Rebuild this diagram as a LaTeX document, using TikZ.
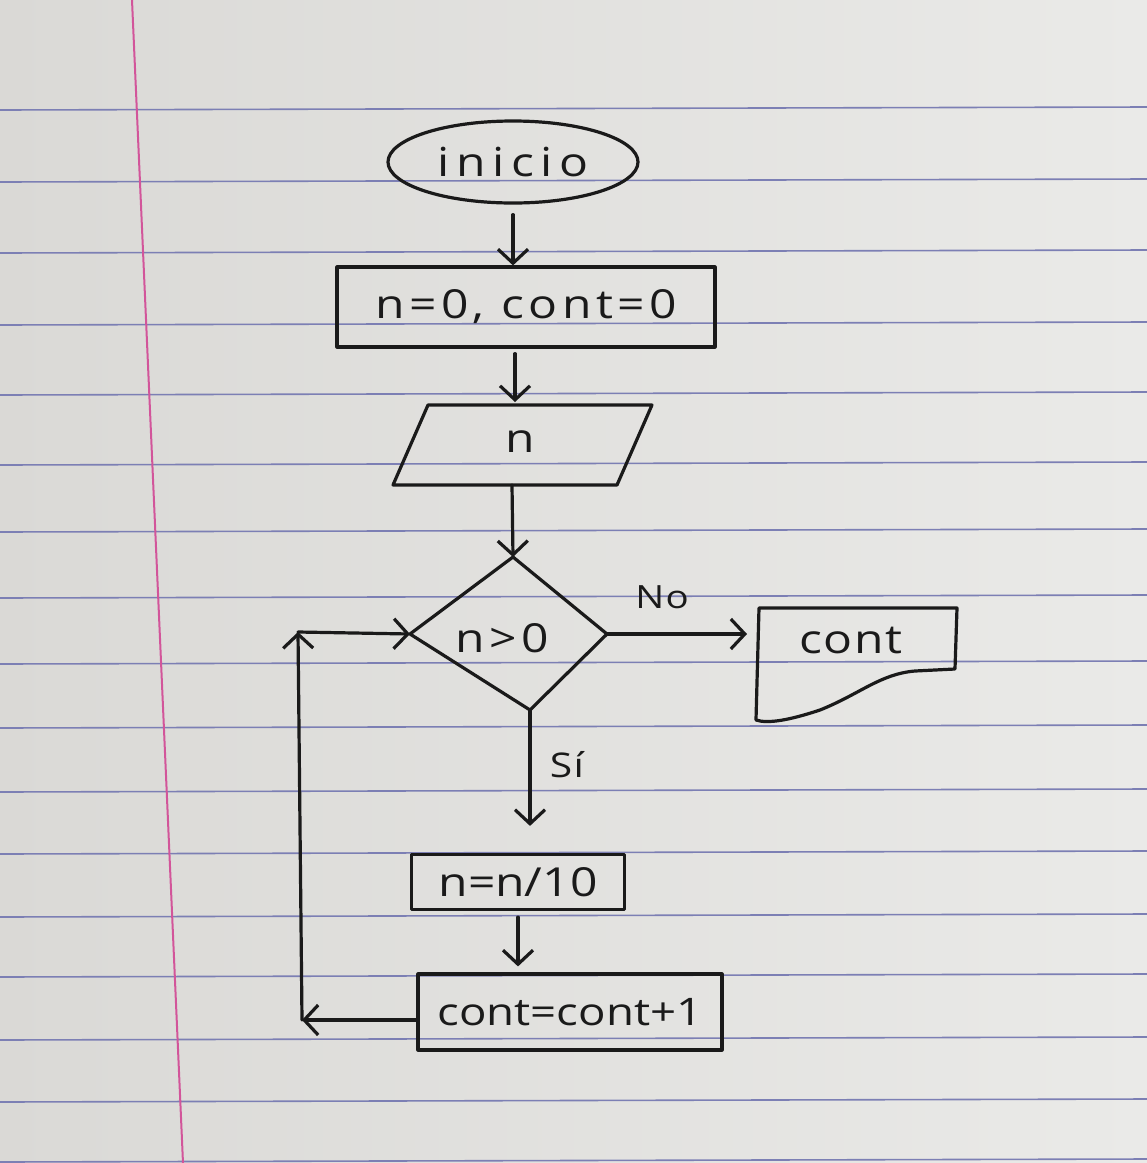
\documentclass[tikz,border=0pt]{standalone}
\usepackage{fontspec}
\setmainfont{Open Sans}
\usetikzlibrary{shapes.geometric,arrows.meta,calc}
\definecolor{paper}{HTML}{DAD9D6}
\definecolor{paperlight}{HTML}{EAEAE8}
\definecolor{rule}{HTML}{7C7FB4}
\definecolor{margin}{HTML}{D2559A}
\definecolor{ink}{HTML}{1A1A1A}
\newcommand{\hand}[2]{\fontsize{#1}{#1}\selectfont\addfontfeatures{FakeStretch=1.2,LetterSpace=#2}}
\begin{document}
\begin{tikzpicture}[x=1pt,y=-1pt,
  ink/.style={draw=ink,line width=3.2pt,line join=round,line cap=round},
  arr/.style={ink,-{Straight Barb[length=14pt,width=30pt,line width=3.2pt]}},
  txt/.style={text=ink,inner sep=0pt},
  procbox/.style={ink,rectangle,minimum width=#1,text=ink}]
% paper
\useasboundingbox (0,0) rectangle (1147,1163);
\shade[left color=paper,right color=paperlight] (0,0) rectangle (1147,1163);
\foreach \yy in {110,182,253,325,395,465,532,598,664,728,792,854,917,977,1040,1102,1162}
  \draw[rule,line width=1.6pt] (0,\yy) -- (1147,\yy-3);
\draw[margin,line width=2pt] (132,0) -- (183,1163);
% start
\node[ink,ellipse,minimum width=250pt,minimum height=82pt,txt,font=\hand{40}{17}] (ini) at (513,162) {inicio};
% init box
\node[procbox=378pt,minimum height=80pt,font=\hand{40}{11}] (b1) at (526,307) {n=0, cont=0};
% input parallelogram
\draw[ink] (393,485) -- (428,405) -- (652,405) -- (617,485) -- cycle;
\node[txt,font=\hand{40}{0}] (inp) at (520,442) {n};
\coordinate (inpT) at (515,405);
\coordinate (inpB) at (512,485);
% decision
\coordinate (dT) at (513,557);
\coordinate (dR) at (607,634);
\coordinate (dB) at (530,710);
\coordinate (dL) at (410,634);
\draw[ink] (dT) -- (dR) -- (dB) -- (dL) -- cycle;
\node[txt,font=\hand{40}{12}] (dec) at (502,638) {n>0};
% output document
\coordinate (docW) at (757,634);
\draw[ink] (759,608) -- (957,608) -- (955,669) -- (915,671)
  .. controls (880,674) and (860,694) .. (820,710)
  .. controls (790,720) and (768,724) .. (756,720) -- cycle;
\node[txt,font=\hand{40}{4}] (out) at (851,641) {cont};
% process boxes
\node[procbox=213pt,minimum height=55pt,font=\hand{40}{0}] (b2) at (518,882) {n=n/10};
\node[procbox=304pt,minimum height=76pt,font=\hand{38}{0}] (b3) at (570,1012) {cont=cont+1};
% labels
\node[txt,font=\hand{32}{4}] (no) at (662,597) {No};
\node[txt,font=\hand{34}{4}] (si) at (567,765) {Sí};
% connectors
\draw[arr,shorten <=10pt] (ini.south) -- (ini.south |- b1.north);
\draw[arr,shorten <=5pt,shorten >=3pt] (b1.south -| inpT) -- (inpT);
\draw[arr] (inpB) -- (dT);
\draw[arr,shorten >=10pt] (dR) -- (docW);
\draw[arr,shorten >=27pt] (dB) -- (dB |- b2.north);
\draw[arr,shorten <=6pt,shorten >=6pt] (b2.south) -- (b2.south |- b3.north);
\coordinate (c1) at (302,1020);
\coordinate (c2) at (298,632);
\draw[arr] (b3.west |- c1) -- (c1);
\draw[arr] (c1) -- (c2);
\draw[arr] (c2) -- (dL);
\end{tikzpicture}
\end{document}
